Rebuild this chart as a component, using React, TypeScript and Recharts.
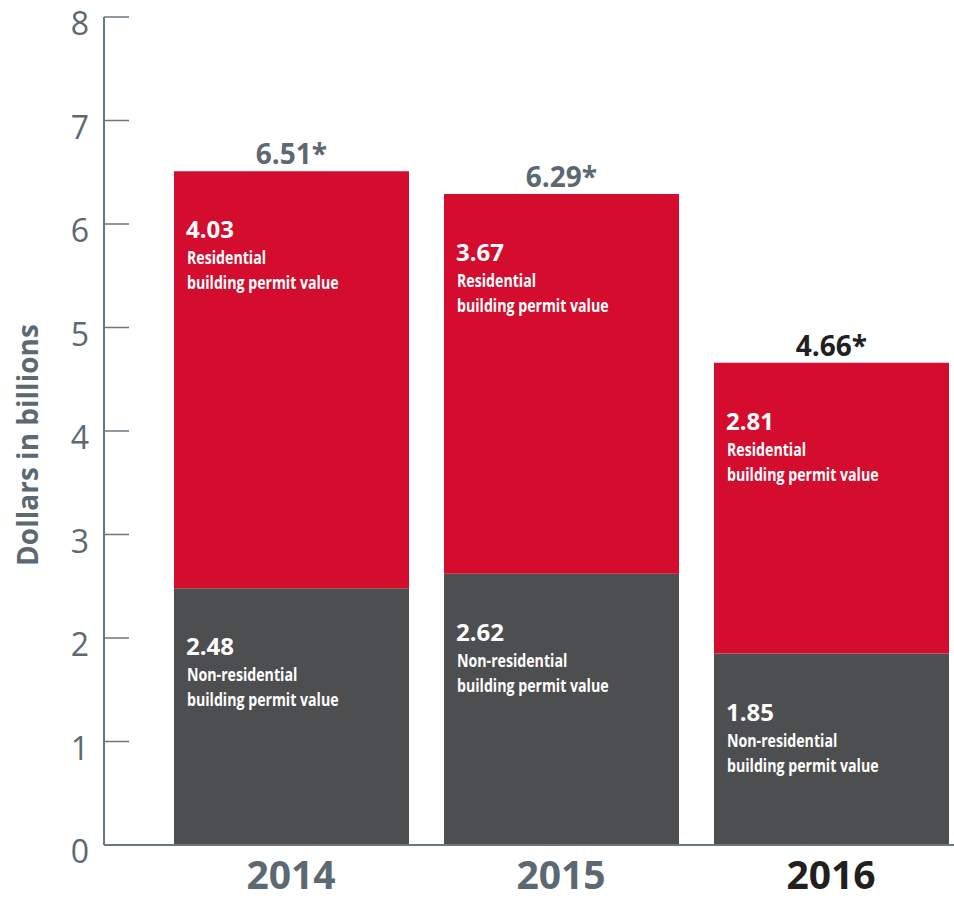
import React from 'react';
import { BarChart, Bar, XAxis, YAxis, LabelList } from 'recharts';

const years = ['2014', '2015', '2016'];
const nonResidential = [2.48, 2.62, 1.85];
const residential = [4.03, 3.67, 2.81];
const totals = [6.51, 6.29, 4.66];
const yTicks = [0, 1, 2, 3, 4, 5, 6, 7, 8];
const highlightYear = '2016';
const resLines = ['Residential', 'building permit value'];
const nonResLines = ['Non-residential', 'building permit value'];

const data = years.map((year, i) => ({
  year,
  nonres: nonResidential[i],
  res: residential[i],
  total: totals[i],
}));

const RED = '#d40c2e';
const DARK = '#4d4e50';
const AXIS = '#6b7780';
const GREY_TEXT = '#5c6872';
const BLACK = '#231f20';
const FONT = '"Open Sans", "Noto Sans", sans-serif';

const TICK_MARGIN = 15;
const TICK_LEN = 25;

function YTick(props: any) {
  const { x, y, payload } = props;
  const ax = x + TICK_MARGIN;
  return (
    <g>
      <line x1={ax} x2={ax + TICK_LEN} y1={y} y2={y} stroke={AXIS} strokeWidth={1.5} />
      <text x={x} y={y} dy={18} textAnchor="end" fontSize={32} fill={GREY_TEXT} fontFamily={FONT}>
        {payload.value}
      </text>
    </g>
  );
}

function XTick(props: any) {
  const { x, y, payload } = props;
  const hl = payload.value === highlightYear;
  return (
    <text x={x} y={y} dy={44} textAnchor="middle" fontSize={39} fontWeight={700}
      fill={hl ? BLACK : GREY_TEXT} fontFamily={FONT}>
      {payload.value}
    </text>
  );
}

function box(props: any) {
  const vb = props.viewBox || props;
  const x = Number(vb.x ?? props.x);
  const y = Number(vb.y ?? props.y);
  const w = Number(vb.width ?? props.width);
  const h = Number(vb.height ?? props.height);
  return { x, top: Math.min(y, y + h), w };
}

function makeSegmentLabel(lines: string[]) {
  return (props: any) => {
    const { x, top } = box(props);
    const v = Number(props.value).toFixed(2);
    const lx = x + 12;
    return (
      <g>
        <text x={lx} y={top + 67} fontSize={24} fontWeight={700} fill="#ffffff" fontFamily={FONT}>{v}</text>
        {lines.map((t, i) => (
          <text key={i} transform={`translate(${lx + 1},${top + 93 + i * 25}) scale(0.81,1)`}
            fontSize={17.5} fontWeight={700} fill="#ffffff" fontFamily={FONT}>{t}</text>
        ))}
      </g>
    );
  };
}

function TotalLabel(props: any) {
  const { x, top, w } = box(props);
  const hl = years[props.index] === highlightYear;
  return (
    <text x={x + w / 2} y={top - 7} textAnchor="middle" fontSize={28} fontWeight={700}
      fill={hl ? BLACK : GREY_TEXT} fontFamily={FONT}>
      {Number(props.value).toFixed(2) + '*'}
    </text>
  );
}

function YTitle(props: any) {
  const vb = props.viewBox || { x: 0, y: 0, width: 0, height: 0 };
  const cx = vb.x + 27;
  const cy = vb.y + vb.height / 2 + 14;
  return (
    <text x={cx} y={cy} transform={`rotate(-90, ${cx}, ${cy})`} textAnchor="middle"
      dominantBaseline="central" fontSize={28} fontWeight={700} fill={GREY_TEXT} fontFamily={FONT}>
      Dollars in billions
    </text>
  );
}

export default function App() {
  return (
    <div style={{ position: 'absolute', left: 0, top: 0, width: 954, height: 901, overflow: 'hidden' }}>
      <BarChart width={966} height={901} data={data} margin={{ top: 17, right: 0, bottom: 0, left: 0 }}>
        <XAxis dataKey="year" padding={{ left: 52, right: 0 }} height={56} interval={0}
          axisLine={{ stroke: AXIS, strokeWidth: 2 }} tickLine={false} tickSize={0} tickMargin={0}
          tick={<XTick />} />
        <YAxis type="number" domain={[0, 8]} ticks={yTicks} width={104} interval={0}
          axisLine={{ stroke: AXIS, strokeWidth: 2 }} tickLine={false} tickSize={0} tickMargin={TICK_MARGIN}
          tick={<YTick />} label={{ content: <YTitle /> } as any} />
        <Bar dataKey="nonres" stackId="a" fill={DARK} barSize={235} isAnimationActive={false}>
          <LabelList dataKey="nonres" content={makeSegmentLabel(nonResLines)} />
        </Bar>
        <Bar dataKey="res" stackId="a" fill={RED} barSize={235} isAnimationActive={false}>
          <LabelList dataKey="res" content={makeSegmentLabel(resLines)} />
          <LabelList dataKey="total" content={TotalLabel} />
        </Bar>
      </BarChart>
    </div>
  );
}
